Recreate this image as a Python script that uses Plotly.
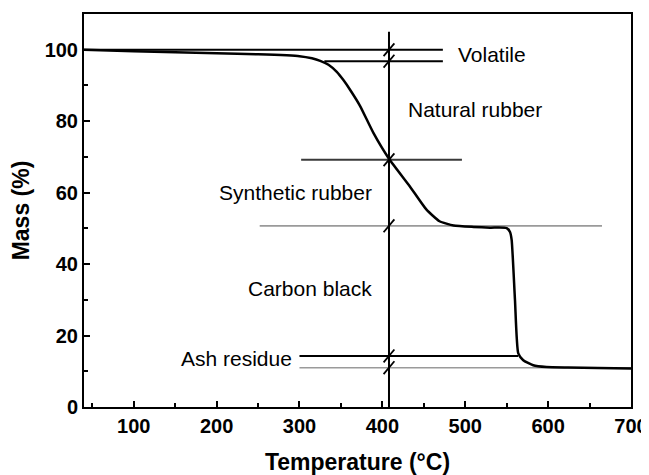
import plotly.graph_objects as go

# ---- TGA curve (Temperature °C, Mass %) ----
temp = [40, 100, 150, 200, 250, 300, 315, 325, 335, 345, 353, 361, 373, 389, 408,
        433, 453, 469, 486, 510, 530, 550, 554, 556, 560, 564, 570, 582, 598, 624, 660, 700]
mass = [100, 99.6, 99.3, 99.0, 98.7, 98.2, 97.6, 96.9, 95.8, 93.8, 91.5, 88.8, 84.3, 76.8, 69.5,
        61.8, 55.3, 52.0, 50.8, 50.4, 50.2, 50.1, 49.0, 46.8, 30.0, 15.0, 13.1, 11.7, 11.2, 11.05, 10.9, 10.8]

# ---- component boundary lines ----
bound_mass = [100.0, 96.8, 69.2, 50.7, 14.3, 11.0]
bound_x0 = [40, 330, 302, 252, 300, 300]
bound_x1 = [473, 473, 496, 665, 564, 700]
bound_color = ["black", "black", "#3a3a3a", "#9a9a9a", "black", "#9a9a9a"]
bound_width = [2, 2, 2, 1.6, 2, 1.6]

# ---- divider at the split temperature ----
split_temp = 408
split_top = 105

# ---- labels ----
label_text = ["Volatile", "Natural rubber", "Synthetic rubber", "Carbon black", "Ash residue"]
label_x = [489, 428, 200, 236, 155]
label_y = [98.8, 83.3, 60.0, 33.1, 13.6]

x_ticks = [100, 200, 300, 400, 500, 600, 700]
y_ticks = [0, 20, 40, 60, 80, 100]

FONT = "Arial, Liberation Sans, sans-serif"

fig = go.Figure()

for m, a, b, c, w in zip(bound_mass, bound_x0, bound_x1, bound_color, bound_width):
    fig.add_trace(go.Scatter(x=[a, b], y=[m, m], mode="lines",
                             line=dict(color=c, width=w), hoverinfo="skip", showlegend=False))

fig.add_trace(go.Scatter(x=[split_temp, split_temp], y=[0, split_top], mode="lines",
                         line=dict(color="black", width=2), hoverinfo="skip", showlegend=False))

dx, dy = 6.5, 1.8
for m in bound_mass:
    fig.add_trace(go.Scatter(x=[split_temp - dx, split_temp + dx], y=[m - dy, m + dy], mode="lines",
                             line=dict(color="black", width=1.8), hoverinfo="skip", showlegend=False))

fig.add_trace(go.Scatter(x=temp, y=mass, mode="lines",
                         line=dict(color="black", width=2.5, shape="spline", smoothing=0.5),
                         showlegend=False))

for t, x, y in zip(label_text, label_x, label_y):
    fig.add_annotation(x=x, y=y, text=t, showarrow=False, xanchor="left", yanchor="middle",
                       font=dict(family=FONT, size=21, color="black"))

axis_common = dict(showline=True, linecolor="black", linewidth=2, mirror=True, automargin=False,
                   showgrid=False, zeroline=False, ticks="inside", ticklen=6, tickwidth=2,
                   tickcolor="black",
                   tickfont=dict(family=FONT, size=20, color="black", weight="bold"))

fig.update_xaxes(range=[40, 700], tickvals=x_ticks,
                 minor=dict(ticks="inside", ticklen=4, tickwidth=2, tickcolor="black", dtick=50, tick0=0),
                 title=dict(text="Temperature (°C)", font=dict(family=FONT, size=23, color="black", weight="bold"),
                            standoff=22),
                 **axis_common)
fig.update_yaxes(range=[0, 110], tickvals=y_ticks,
                 minor=dict(ticks="inside", ticklen=4, tickwidth=2, tickcolor="black", dtick=10, tick0=0),
                 title=dict(text="Mass (%)", font=dict(family=FONT, size=23, color="black", weight="bold"),
                            standoff=12),
                 **axis_common)

# page body adds an 8px margin, so the figure is sized to fill the rest of the window
fig.update_layout(width=641, height=467, margin=dict(l=76, r=18, t=6, b=68),
                  plot_bgcolor="white", paper_bgcolor="white")

fig.write_html("out.html")
